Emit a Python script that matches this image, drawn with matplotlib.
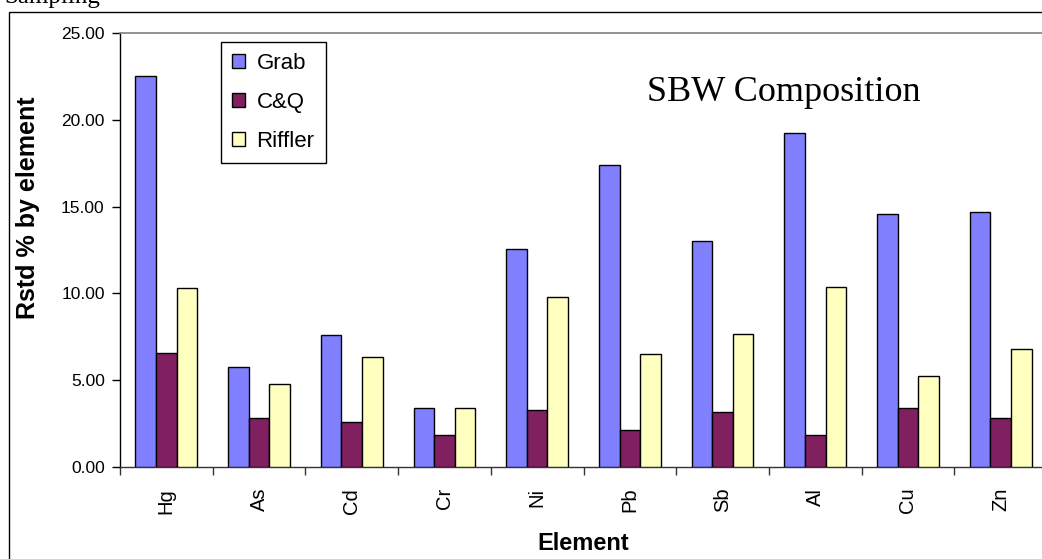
import matplotlib
matplotlib.use("Agg")
import matplotlib.pyplot as plt
import numpy as np
from matplotlib.patches import Rectangle

elements = ["Hg", "As", "Cd", "Cr", "Ni", "Pb", "Sb", "Al", "Cu", "Zn"]
grab = [22.52, 5.74, 7.60, 3.41, 12.54, 17.40, 13.04, 19.26, 14.59, 14.69]
cq = [6.55, 2.83, 2.62, 1.83, 3.30, 2.13, 3.19, 1.82, 3.40, 2.80]
riffler = [10.33, 4.76, 6.33, 3.41, 9.81, 6.51, 7.68, 10.39, 5.22, 6.78]
series_names = ["Grab", "C&Q", "Riffler"]
colors = ["#8080FF", "#802060", "#FFFFC0"]
yticks = [0, 5, 10, 15, 20, 25]

W, H = 1042, 559
fig = plt.figure(figsize=(W / 100, H / 100), dpi=100)

# outer chart frame (cropped at right/bottom)
fig.patches.append(Rectangle((9 / W, -0.1), 1.2, (H - 12) / H + 0.1,
                             transform=fig.transFigure, fill=False,
                             edgecolor="black", linewidth=1.0))
# text above the chart, cropped at the top edge in the reference
fig.text(4 / W, 1 - 3 / H, "Sampling", family="Liberation Serif", fontsize=18,
         va="baseline", ha="left")

ax_l, ax_r, ax_t, ax_b = 120, 1047, 33, 467
ax = fig.add_axes([ax_l / W, 1 - ax_b / H, (ax_r - ax_l) / W, (ax_b - ax_t) / H])

n = len(elements)
x = np.arange(n) + 0.5
w = 1 / 4.5
for j, (vals, name, c) in enumerate(zip([grab, cq, riffler], series_names, colors)):
    ax.bar(x + (j - 1) * w, vals, width=w, color=c, edgecolor="black",
           linewidth=1.0, label=name, zorder=3)

ax.set_xlim(0, n)
ax.set_ylim(0, 25)
ax.set_yticks(yticks)
ax.set_yticklabels([f"{v:.2f}" for v in yticks], family="Liberation Sans", fontsize=12.5)
ax.set_xticks(np.arange(n + 1))
ax.set_xticklabels([])
ax.set_xticks(x, minor=True)
ax.set_xticklabels(elements, minor=True, rotation=90, family="Liberation Sans",
                   fontsize=14.5)
ax.tick_params(axis="x", which="major", direction="out", length=6, width=1, color="#333333")
ax.tick_params(axis="x", which="minor", length=0, pad=15)
ax.tick_params(axis="y", direction="out", length=6, width=1, pad=5)

for s in ["top", "right"]:
    ax.spines[s].set_color("#808080")
    ax.spines[s].set_linewidth(1.2)
ax.spines["left"].set_color("black")
ax.spines["bottom"].set_color("#333333")
ax.spines["left"].set_linewidth(1.0)
ax.spines["bottom"].set_linewidth(1.0)

fig.text(28 / W, 1 - 208 / H, "Rstd % by element", rotation=90, ha="center",
         va="center", family="Liberation Sans", fontweight="bold", fontsize=18)
fig.text(583 / W, 1 - 543 / H, "Element", ha="center", va="center",
         family="Liberation Sans", fontweight="bold", fontsize=17)
fig.text(647 / W, 1 - 101 / H, "SBW Composition", ha="left", va="baseline",
         family="Liberation Serif", fontsize=26)

leg = ax.legend(loc="upper left", bbox_to_anchor=(221 / W, 1 - 42 / H),
                bbox_transform=fig.transFigure, prop={"family": "Liberation Sans", "size": 16},
                frameon=True, fancybox=False, framealpha=1, edgecolor="black",
                handlelength=0.6, handleheight=0.6, handletextpad=0.5,
                labelspacing=0.8, borderpad=0.5, borderaxespad=0)
leg.get_frame().set_linewidth(1.0)

fig.savefig("out.png", dpi=100)
